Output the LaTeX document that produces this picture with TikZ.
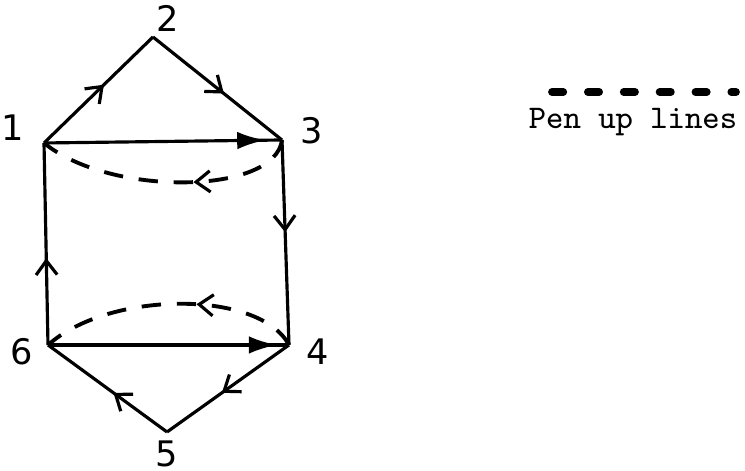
\documentclass[tikz,border=0pt]{standalone}
\usepackage{fontspec}
\newfontfamily\labfont{DejaVu Sans}
\usetikzlibrary{arrows.meta,decorations.markings}
\tikzset{
  edge/.style={line width=0.9pt},
  penup/.style={line width=1.1pt, dash pattern=on 5.5pt off 4.5pt},
  midarrow/.style={postaction={decorate},decoration={markings,
     mark=at position #1 with {\arrow{Straight Barb[length=4pt,width=6pt,line width=0.9pt]}}}},
  endarrow/.style={postaction={decorate},decoration={markings,
     mark=at position #1 with {\arrow{Latex[length=8pt,width=5pt]}}}},
  lab/.style={font=\labfont\fontsize{10}{10}\selectfont, inner sep=0pt},
  pt/.style={coordinate}
}
\begin{document}
\begin{tikzpicture}[x=0.01cm,y=-0.01cm]
\useasboundingbox (0,0) rectangle (745,471);
\node[pt] (p1) at (44,143) {};
\node[pt] (p2) at (153,37) {};
\node[pt] (p3) at (282,140) {};
\node[pt] (p4) at (289,345) {};
\node[pt] (p5) at (167,432) {};
\node[pt] (p6) at (48,345) {};
\node[lab] (l1) at (13,128) {1};
\node[lab] (l2) at (168,18) {2};
\node[lab] (l3) at (312,131) {3};
\node[lab] (l4) at (318,352) {4};
\node[lab] (l5) at (167,454) {5};
\node[lab] (l6) at (22,352) {6};
% solid edges
\draw[edge, midarrow=0.55] (p1) -- (p2);
\draw[edge, midarrow=0.55] (p2) -- (p3);
\draw[edge, endarrow=0.93] (p1) -- (p3);
\draw[edge, midarrow=0.45] (p3) -- (p4);
\draw[edge, midarrow=0.55] (p4) -- (p5);
\draw[edge, midarrow=0.45] (p5) -- (p6);
\draw[edge, midarrow=0.43] (p6) -- (p1);
\draw[edge, endarrow=0.95] (p6) -- (p4);
% pen up lines
\draw[penup, midarrow=0.4] (p3) .. controls (275,195) and (110,197) .. (p1);
\draw[penup, midarrow=0.4] (p4) .. controls (260,290) and (110,290) .. (p6);
% legend
\coordinate (la) at (552,92);
\coordinate (lb) at (736,92);
\draw[line width=2.2pt, dash pattern=on 3.2pt off 7pt, line cap=round] (la) -- (lb);
\node[font=\ttfamily\fontsize{9.4}{10}\selectfont, inner sep=0pt] (leg) at (633,122) {Pen up lines};
\end{tikzpicture}
\end{document}
